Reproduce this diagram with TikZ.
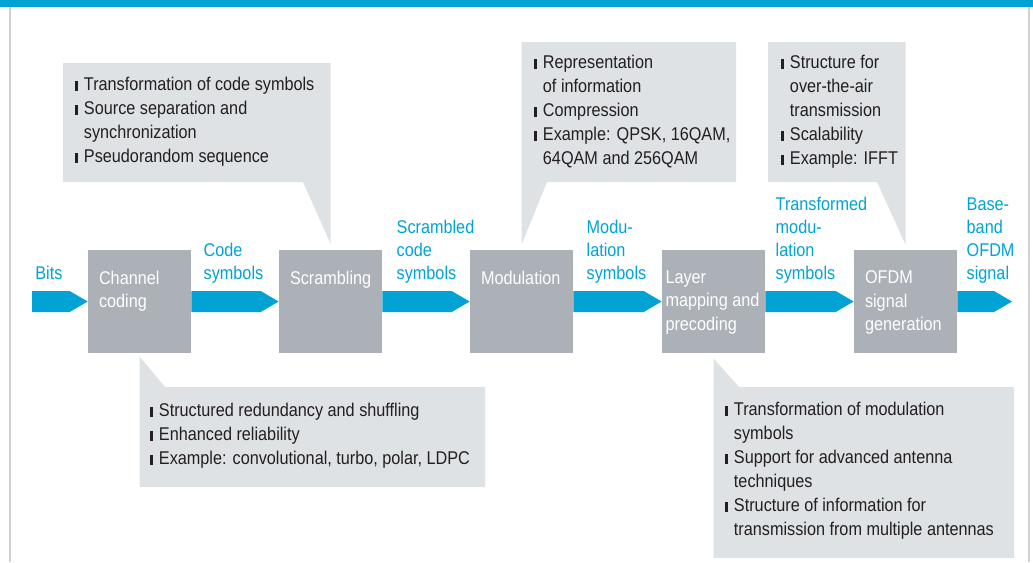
\documentclass[tikz,border=0pt]{standalone}
\usepackage{fontspec}
\setmainfont{Liberation Sans}[FakeStretch=0.88]
\usetikzlibrary{positioning}

\definecolor{ksblue}{RGB}{0,163,212}
\definecolor{blockgray}{RGB}{171,177,183}
\definecolor{notegray}{RGB}{222,226,229}
\definecolor{frameline}{RGB}{205,210,213}
\definecolor{notetext}{RGB}{35,31,32}

\newcommand{\itm}{\rule{1.7pt}{5.4pt}\hspace{3.2pt}}
\newcommand{\ind}{\hphantom{\itm}}
\newcommand{\flowarrow}[2]{%
  \fill[flow] ([shift={(0,-10.5)}]#1) -- ([shift={(-18,-10.5)}]#2) -- (#2)
    -- ([shift={(-18,10.5)}]#2) -- ([shift={(0,10.5)}]#1) -- cycle;}

\tikzset{
  blk/.style={fill=blockgray, minimum width=2.06cm, minimum height=2.06cm, inner sep=0},
  blktxt/.style={text=white, align=left, inner sep=0, anchor=north west,
    font=\fontsize{10.5}{13.2}\selectfont},
  lbl/.style={text=ksblue, align=left, inner sep=0, anchor=south west,
    font=\fontsize{10.5}{13.1}\selectfont},
  notetxt/.style={text=notetext, align=left, inner sep=0, anchor=north west,
    font=\fontsize{10.5}{13.66}\selectfont},
  note/.style={fill=notegray},
  flow/.style={fill=ksblue}
}

\begin{document}
\begin{tikzpicture}[x=0.02cm, y=-0.02cm]
		\useasboundingbox (0,0) rectangle (1033,562);
		\fill[ksblue] (0,0) rectangle (1033,7);
		\draw[frameline, line width=0.9pt] (10,7) -- (10,562);
		\draw[frameline, line width=0.9pt] (1029,7) -- (1029,562);

		% processing chain
		\node[blk] (chan) at (139.5,301.5) {};
		\node[blk] (scr) at (330.5,301.5) {};
		\node[blk] (mod) at (521.5,301.5) {};
		\node[blk] (lay) at (713.5,301.5) {};
		\node[blk] (ofdm) at (905.5,301.5) {};
		\coordinate (bitsin) at (32,301.5);
		\coordinate (bbout) at (1012,301.5);

		\node[blktxt] (chant) at ([shift={(11,21)}]chan.north west) {Channel\\coding};
		\node[blktxt] (scrt) at ([shift={(11,21)}]scr.north west) {Scrambling};
		\node[blktxt] (modt) at ([shift={(11,21)}]mod.north west) {Modulation};
		\node[blktxt] (layt) at ([shift={(3.5,21)}]lay.north west) {Layer\\mapping and\\precoding};
		\node[blktxt] (ofdmt) at ([shift={(11,21)}]ofdm.north west) {OFDM\\signal\\generation};

		\flowarrow{bitsin}{chan.west}
		\flowarrow{chan.east}{scr.west}
		\flowarrow{scr.east}{mod.west}
		\flowarrow{mod.east}{lay.west}
		\flowarrow{lay.east}{ofdm.west}
		\flowarrow{ofdm.east}{bbout}

		\node[lbl, anchor=base west] (bits) at (35,279.5) {Bits};
		\node[lbl] (codesym) at ([shift={(12,34)}]chan.north east) {Code\\symbols};
		\node[lbl] (scrsym) at ([shift={(14,34)}]scr.north east) {Scrambled\\code\\symbols};
		\node[lbl] (modsym) at ([shift={(13,34)}]mod.north east) {Modu-\\lation\\symbols};
		\node[lbl] (trsym) at ([shift={(10,34)}]lay.north east) {Transformed\\modu-\\lation\\symbols};
		\node[lbl] (bbsig) at ([shift={(9,34)}]ofdm.north east) {Base-\\band\\OFDM\\signal};

		% callouts
		\fill[note] (63,63) -- (330.5,63) -- ([shift={(0,-6)}]scr.north) -- (303,182) -- (63,182) -- cycle;
		\fill[note] (521.5,42) -- (736,42) -- (736,182) -- (547,182) -- ([shift={(0,-5)}]mod.north) -- cycle;
		\fill[note] (768,42) -- (905.5,42) -- ([shift={(0,-5)}]ofdm.north) -- (877,182) -- (768,182) -- cycle;
		\fill[note] ([shift={(0,3)}]chan.south) -- (165,387) -- (485,387) -- (485,487) -- (139.5,487) -- cycle;
		\fill[note] ([shift={(0,5)}]lay.south) -- (739,387) -- (1014,387) -- (1014,558) -- (713.5,558) -- cycle;

		\node[notetxt] (scrnote) at (75,77) {\itm Transformation of code symbols\\\itm Source separation and\\\ind synchronization\\\itm Pseudorandom sequence};
		\node[notetxt] (modnote) at (534,55) {\itm Representation\\\ind of information\\\itm Compression\\\itm Example: QPSK, 16QAM,\\\ind 64QAM and 256QAM};
		\node[notetxt] (ofdmnote) at (781,55) {\itm Structure for\\\ind over-the-air\\\ind transmission\\\itm Scalability\\\itm Example: IFFT};
		\node[notetxt] (channote) at (150,403) {\itm Structured redundancy and shuffling\\\itm Enhanced reliability\\\itm Example: convolutional, turbo, polar, LDPC};
		\node[notetxt] (laynote) at (725,402) {\itm Transformation of modulation\\\ind symbols\\\itm Support for advanced antenna\\\ind techniques\\\itm Structure of information for\\\ind transmission from multiple antennas};
	\end{tikzpicture}
\end{document}
